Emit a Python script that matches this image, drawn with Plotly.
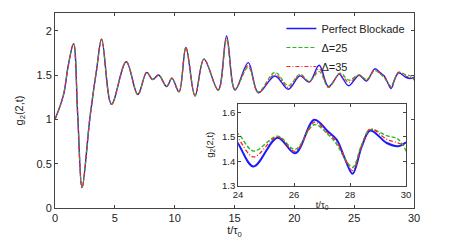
import plotly.graph_objects as go

t = [0, 0.7, 1.1, 1.55, 1.9, 2.26, 2.92, 3.48, 3.9, 4.72, 5.95, 6.92, 7.66, 8.16, 8.66,
     9.33, 9.77, 10.36, 10.94, 11.7, 12.45, 13.64, 14.34, 15.04, 16.15, 16.99, 18.38,
     19.5, 20.47, 21.25, 22.08, 22.85, 23.75, 24.0, 24.55, 25.41, 26.04, 26.72, 27.21,
     27.52, 27.82, 28.09, 28.42, 28.72, 29.31, 29.72, 30.0]

common_early = [1.00, 1.27, 1.60, 1.855, 1.04, 0.23, 1.02, 1.565, 1.905, 1.17, 1.65, 1.28,
                1.53, 1.45, 1.50, 1.37, 1.465, 1.31, 1.81, 1.265, 1.68, 1.33]

perfect_late = [1.94, 1.33, 1.64, 1.30, 1.49, 1.34, 1.49, 1.42, 1.61, 1.37, 1.51, 1.473,
                1.379, 1.497, 1.433, 1.57, 1.522, 1.489, 1.409, 1.349, 1.462, 1.526, 1.475,
                1.462, 1.478]
d25_late = [1.90, 1.34, 1.59, 1.31, 1.53, 1.38, 1.51, 1.43, 1.54, 1.36, 1.52, 1.513,
            1.442, 1.503, 1.449, 1.55, 1.51, 1.47, 1.41, 1.375, 1.47, 1.53, 1.505,
            1.49, 1.442]
d35_late = [1.92, 1.335, 1.61, 1.30, 1.51, 1.36, 1.50, 1.425, 1.57, 1.365, 1.515, 1.493,
            1.418, 1.50, 1.441, 1.56, 1.515, 1.48, 1.41, 1.362, 1.465, 1.533, 1.49,
            1.475, 1.462]

g_perfect = common_early + perfect_late
g_d25 = common_early + d25_late
g_d35 = common_early + d35_late

names = ["Perfect Blockade", "Δ=25", "Δ=35"]
x_ticks = [0, 5, 10, 15, 20, 25, 30]
y_ticks = [0, 0.5, 1, 1.5, 2]
inset_x_ticks = [24, 26, 28, 30]
inset_y_ticks = [1.3, 1.4, 1.5, 1.6]

BLUE = "#1a1aff"
GREEN = "#22bb22"
RED = "#ff2222"
FONT = "Liberation Sans, Arial, sans-serif"

fig = go.Figure()
series = [(g_perfect, BLUE, "solid", 1.4, 2.0),
          (g_d25, GREEN, "4px,2px", 1.2, 1.4),
          (g_d35, RED, "4px,2px,1px,2px", 1.1, 1.3)]
for (y, c, d, w, w2), n in zip(series, names):
    fig.add_trace(go.Scatter(x=t, y=y, name=n, mode="lines",
                             line=dict(color=c, dash=d, width=w, shape="spline", smoothing=1.0),
                             xaxis="x", yaxis="y"))
for (y, c, d, w, w2), n in zip(series, names):
    fig.add_trace(go.Scatter(x=t, y=y, name=n, mode="lines", showlegend=False,
                             line=dict(color=c, dash=d, width=w2, shape="spline", smoothing=1.0),
                             xaxis="x2", yaxis="y2"))

axis_common = dict(showline=True, linecolor="#444", linewidth=1, mirror="ticks",
                   ticks="inside", ticklen=3, tickcolor="#444", showgrid=False,
                   zeroline=False)

fig.update_layout(
    width=463, height=246,
    margin=dict(l=55, r=49, t=12, b=32),
    paper_bgcolor="white", plot_bgcolor="white",
    font=dict(family=FONT, size=11, color="#222"),
    xaxis=dict(domain=[0, 1], range=[0, 30], tickvals=x_ticks,
               title=dict(text="t/τ<sub>0</sub>", standoff=2, font=dict(size=11)),
               **axis_common),
    yaxis=dict(domain=[0, 1], range=[0, 2.2], tickvals=y_ticks,
               ticktext=["0", "0.5", "1", "1.5", "2"],
               title=dict(text="g<sub>2</sub>(2,t)", standoff=10, font=dict(size=11)),
               **axis_common),
    xaxis2=dict(domain=[0.51, 0.978], range=[24, 30], tickvals=inset_x_ticks, anchor="y2",
                tickfont=dict(size=9.5),
                title=dict(text="t/τ<sub>0</sub>", standoff=2, font=dict(size=9.5)),
                **axis_common),
    yaxis2=dict(domain=[0.114, 0.535], range=[1.3, 1.636], tickvals=inset_y_ticks, anchor="x2",
                tickfont=dict(size=9.5),
                title=dict(text="g<sub>2</sub>(2,t)", standoff=6, font=dict(size=9.5)),
                **axis_common),
    legend=dict(x=0.99, y=0.995, xanchor="right", yanchor="top",
                bgcolor="rgba(255,255,255,0)", borderwidth=0,
                font=dict(size=11), itemwidth=30, tracegroupgap=0),
    showlegend=True,
)

fig.write_html("out.html", config={"displayModeBar": False},
               post_script="document.body.style.margin='0';document.body.style.overflow='hidden';")
